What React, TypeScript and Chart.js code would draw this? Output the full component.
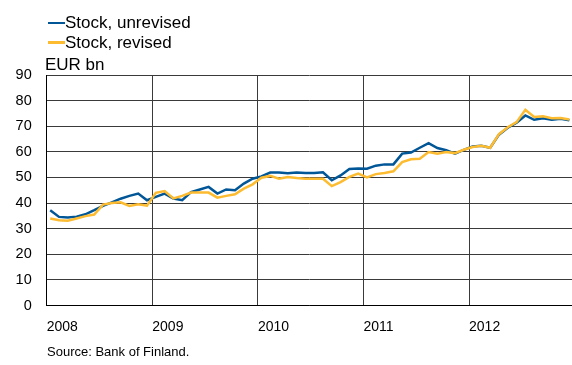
import React, { useEffect, useRef } from "react";
import { Chart, registerables } from "chart.js";

Chart.register(...registerables);

const years = ["2008", "2009", "2010", "2011", "2012"];

// EUR bn, monthly Jan 2008 – Dec 2012
const unrevised = [
  37.2, 34.6, 34.4, 34.7, 35.6, 37.2, 38.9, 40.3, 41.7, 42.8, 43.7, 41.1,
  42.4, 43.7, 41.8, 41.1, 44.3, 45.3, 46.3, 43.7, 45.3, 45.0, 47.6, 49.5,
  50.4, 51.9, 51.9, 51.6, 51.9, 51.7, 51.7, 52.0, 48.9, 50.8, 53.3, 53.5,
  53.4, 54.6, 55.1, 55.1, 59.3, 59.7, 61.6, 63.4, 61.5, 60.6, 59.3, 60.8,
  62.1, 62.4, 61.6, 66.7, 69.4, 71.4, 74.2, 72.5, 73.1, 72.5, 72.9, 72.3,
];

const revised = [
  34.0, 33.3, 33.1, 34.0, 34.9, 35.5, 39.4, 40.0, 40.3, 38.9, 39.5, 39.0,
  44.0, 44.7, 41.8, 42.8, 44.1, 44.1, 44.1, 42.1, 42.8, 43.4, 45.6, 47.3,
  49.9, 50.6, 49.5, 50.2, 49.8, 49.5, 49.5, 49.5, 46.6, 48.2, 50.2, 51.5,
  50.0, 51.3, 51.7, 52.4, 56.0, 57.1, 57.3, 59.9, 59.3, 59.9, 59.5, 60.8,
  61.9, 62.4, 61.6, 66.9, 69.6, 71.6, 76.4, 73.6, 73.9, 73.1, 73.2, 72.6,
];

const yMin = 0;
const yMax = 90;
const yStep = 10;

const BLUE = "#005696";
const YELLOW = "#FDBB30";
const GRID = "#3a3a3a";
const FONT_FAMILY = "'Liberation Sans', Arial, sans-serif";

export default function App() {
  const ref = useRef<HTMLCanvasElement>(null);

  useEffect(() => {
    const canvas = ref.current;
    if (!canvas) return;
    const toPoints = (arr: number[]) => arr.map((v, i) => ({ x: i + 0.4, y: v }));
    const chart = new Chart(canvas, {
      type: "line",
      data: {
        datasets: [
          {
            label: "Stock, revised",
            data: toPoints(revised),
            borderColor: YELLOW,
            backgroundColor: YELLOW,
            borderWidth: 2.5,
            pointRadius: 0,
            tension: 0,
            order: 0,
          },
          {
            label: "Stock, unrevised",
            data: toPoints(unrevised),
            borderColor: BLUE,
            backgroundColor: BLUE,
            borderWidth: 2.5,
            pointRadius: 0,
            tension: 0,
            order: 1,
          },
        ],
      },
      options: {
        responsive: false,
        animation: false,
        layout: { padding: { top: 75, left: 0, right: 0, bottom: 0 } },
        plugins: { legend: { display: false }, tooltip: { enabled: false } },
        scales: {
          x: {
            type: "linear",
            min: 0,
            max: 59.7,
            afterBuildTicks: (s: any) => {
              s.ticks = years.map((_, i) => ({ value: i * 12 }));
            },
            afterFit: (s: any) => {
              s.height = 59.5;
            },
            ticks: {
              align: "start",
              autoSkip: false,
              maxRotation: 0,
              padding: 13,
              color: "#000",
              font: { family: FONT_FAMILY, size: 14 },
              callback: (v: any) => years[Math.round(Number(v) / 12)] ?? "",
            },
            grid: { color: GRID, lineWidth: 1, drawTicks: false },
            border: { color: "#000", width: 1 },
          },
          y: {
            min: yMin,
            max: yMax,
            afterFit: (s: any) => {
              s.width = 46.7;
            },
            ticks: {
              stepSize: yStep,
              padding: 15,
              color: "#000",
              font: { family: FONT_FAMILY, size: 14.5 },
            },
            grid: { color: GRID, lineWidth: 1, drawTicks: false },
            border: { color: "#000", width: 1 },
          },
        },
      },
    });
    return () => chart.destroy();
  }, []);

  const textStyle: React.CSSProperties = {
    position: "absolute",
    fontFamily: FONT_FAMILY,
    color: "#000",
    whiteSpace: "nowrap",
  };

  const legendRow = (color: string, label: string, top: number) => (
    <div
      style={{
        ...textStyle,
        left: 48,
        top,
        height: 22,
        lineHeight: "22px",
        fontSize: 17,
        display: "flex",
        alignItems: "center",
      }}
    >
      <span style={{ display: "inline-block", width: 17, height: 2.5, background: color }} />
      <span>{label}</span>
    </div>
  );

  return (
    <div style={{ position: "fixed", left: 0, top: 0, width: 572, height: 365, background: "#fff" }}>
      <canvas ref={ref} width={572} height={365} style={{ position: "absolute", left: 0, top: 0 }} />
      {legendRow(BLUE, "Stock, unrevised", 12)}
      {legendRow(YELLOW, "Stock, revised", 31.5)}
      <div style={{ ...textStyle, left: 45, top: 55, fontSize: 17, lineHeight: "20px" }}>EUR bn</div>
      <div style={{ ...textStyle, left: 47, top: 342, fontSize: 13, lineHeight: "20px" }}>
        Source: Bank of Finland.
      </div>
    </div>
  );
}
